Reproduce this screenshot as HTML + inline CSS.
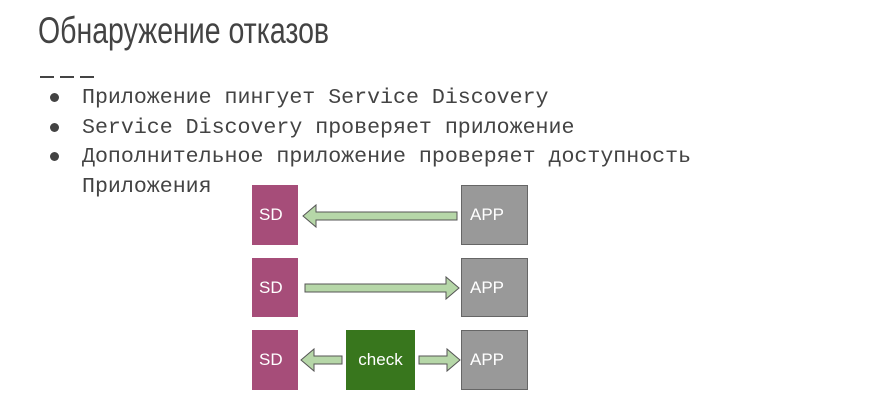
<!DOCTYPE html>
<html><head><meta charset="utf-8"><style>
body{margin:0;width:870px;height:400px;background:#fff;position:relative;overflow:hidden;font-family:"Liberation Sans","Noto Sans CJK SC",sans-serif}
.t{position:absolute;left:38px;top:10px;font-size:37px;color:#434343;transform:scaleX(0.77);transform-origin:left top;white-space:nowrap}
.d{position:absolute;top:76px;height:2px;width:14px;background:#444}
.l{position:absolute;left:82px;font-family:"Liberation Mono","Noto Sans CJK SC",monospace;font-size:21.6px;color:#434343;white-space:nowrap}
.b{position:absolute;left:50px;width:9px;height:9px;border-radius:50%;background:#434343}
.box{position:absolute;color:#fff;font-size:17px;display:flex;align-items:center;box-sizing:border-box}
.sd{background:#a64d79;width:46px;left:252px;padding-left:7px}
.app{background:#999;border:1px solid #666;width:67px;left:461px;padding-left:8px}
</style></head><body>
<div class="t">Обнаружение отказов</div>
<div class="d" style="left:40px"></div><div class="d" style="left:60px"></div><div class="d" style="left:80px"></div>
<div class="b" style="top:93px"></div><div class="l" style="top:86px">Приложение пингует Service Discovery</div>
<div class="b" style="top:123px"></div><div class="l" style="top:116px">Service Discovery проверяет приложение</div>
<div class="b" style="top:152px"></div><div class="l" style="top:145px">Дополнительное приложение проверяет доступность</div>
<div class="l" style="top:175px">Приложения</div>
<div class="box sd" style="top:185px;height:60px">SD</div>
<div class="box sd" style="top:258px;height:59px">SD</div>
<div class="box sd" style="top:330px;height:60px">SD</div>
<div class="box app" style="top:185px;height:60px">APP</div>
<div class="box app" style="top:258px;height:59px">APP</div>
<div class="box app" style="top:330px;height:60px">APP</div>
<div class="box" style="background:#38761d;left:346px;top:330px;width:69px;height:60px;justify-content:center">check</div>
<svg style="position:absolute;left:0;top:0" width="870" height="400">
<g fill="#b6d7a8" stroke="#555" stroke-width="1">
<polygon points="457,212 316,212 316,205 303,216 316,227 316,220 457,220"/>
<polygon points="305,284 446,284 446,277 459,288 446,299 446,292 305,292"/>
<polygon points="342,356 314,356 314,349 301,360 314,371 314,364 342,364"/>
<polygon points="419,356 447,356 447,349 460,360 447,371 447,364 419,364"/>
</g></svg>
</body></html>
